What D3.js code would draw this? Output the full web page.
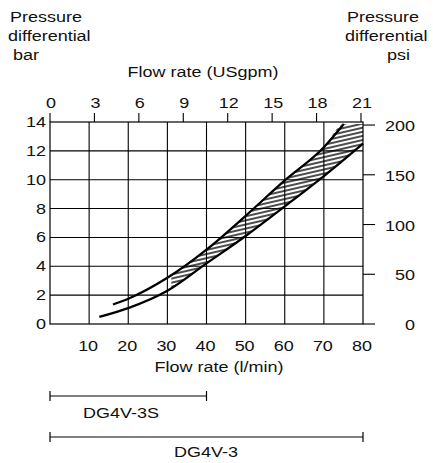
<html>

<head>
  <meta charset="utf8">
  <title>Pressure differential vs flow rate</title>
  <style>
    * {
      margin: 0;
      padding: 0;
    }
    body {
      background: #fff;
    }
  </style>
</head>

<body>
  <script src="https://cdn.jsdelivr.net/npm/d3@7"></script>
  <script>
    var w = 433
    var h = 463

    // flow rate in l/min, pressure drop in bar
    var upperFlow = [16.1, 20, 30, 40, 50, 60, 70, 75.1]
    var upperBar = [1.35, 1.75, 3.2, 5.15, 7.5, 9.95, 12.25, 13.86]
    var lowerFlow = [12.6, 20, 30, 40, 50, 60, 70, 80]
    var lowerBar = [0.49, 1.1, 2.3, 4.2, 6.1, 8.15, 10.25, 12.5]
    var hatchFrom = 31

    var flowTicks = [10, 20, 30, 40, 50, 60, 70, 80]
    var gpmTicks = [0, 3, 6, 9, 12, 15, 18, 21]
    var barTicks = [0, 2, 4, 6, 8, 10, 12, 14]
    var psiTicks = [0, 50, 100, 150, 200]

    var ranges = [
      { name: 'DG4V-3S', from: 0, to: 40 },
      { name: 'DG4V-3', from: 0, to: 80 }
    ]

    var lpmPerGpm = 3.785
    var psiPerBar = 14.5038

    var xScale = d3.scaleLinear().domain([0, 80]).range([50, 363])
    var gpmScale = d3.scaleLinear().domain([0, 80 / lpmPerGpm]).range([50, 363])
    var yScale = d3.scaleLinear().domain([0, 14]).range([324, 122])
    var psiScale = d3.scaleLinear().domain([0, 14 * psiPerBar]).range([324, 122])

    var svg = d3.select('body').append('svg').attr('width', w).attr('height', h)
      .attr('font-family', 'Liberation Sans, Arial, sans-serif')
      .attr('font-size', '15px')

    function label(x, y, str, anchor) {
      svg.append('text')
        .attr('transform', 'translate(' + x + ',' + y + ') scale(1.2,1)')
        .attr('text-anchor', anchor || 'start')
        .attr('fill', '#111')
        .text(str)
    }

    var upper = upperFlow.map((d, i) => [d, upperBar[i]])
    var lower = lowerFlow.map((d, i) => [d, lowerBar[i]])

    var line = d3.line()
      .x(d => xScale(d[0]))
      .y(d => yScale(d[1]))
      .curve(d3.curveMonotoneX)

    var under = d3.area()
      .x(d => xScale(d[0]))
      .y0(yScale(0))
      .y1(d => yScale(d[1]))
      .curve(d3.curveMonotoneX)

    // hatch pattern
    var defs = svg.append('defs')
    var pat = defs.append('pattern')
      .attr('id', 'hatch')
      .attr('patternUnits', 'userSpaceOnUse')
      .attr('width', 12)
      .attr('height', 4)
      .attr('patternTransform', 'rotate(-13)')
    pat.append('line')
      .attr('x1', 0).attr('x2', 12)
      .attr('y1', 2).attr('y2', 2)
      .attr('stroke', '#000')
      .attr('stroke-width', 1.4)

    // band = under upper curve minus under lower curve
    var mask = defs.append('mask').attr('id', 'bandMask')
    mask.append('path')
      .attr('d', under(upper.concat([[80, upperBar[upperBar.length - 1]]])))
      .attr('fill', '#fff')
    mask.append('path')
      .attr('d', under(lower))
      .attr('fill', '#000')

    // grid
    svg.append('g').selectAll('line.v')
      .data(flowTicks.slice(0, -1))
      .enter()
      .append('line')
      .attr('x1', d => xScale(d)).attr('x2', d => xScale(d))
      .attr('y1', yScale(0)).attr('y2', yScale(14))
      .attr('stroke', '#000')
      .attr('stroke-width', 1.1)

    svg.append('g').selectAll('line.h')
      .data(barTicks.slice(1, -1))
      .enter()
      .append('line')
      .attr('x1', xScale(0)).attr('x2', xScale(80))
      .attr('y1', d => yScale(d)).attr('y2', d => yScale(d))
      .attr('stroke', '#000')
      .attr('stroke-width', 1.1)

    // hatched band between the curves
    svg.append('rect')
      .attr('x', xScale(hatchFrom))
      .attr('y', yScale(14))
      .attr('width', xScale(80) - xScale(hatchFrom))
      .attr('height', yScale(0) - yScale(14))
      .attr('fill', 'url(#hatch)')
      .attr('mask', 'url(#bandMask)')

    // frame
    svg.append('rect')
      .attr('x', xScale(0))
      .attr('y', yScale(14))
      .attr('width', xScale(80) - xScale(0))
      .attr('height', yScale(0) - yScale(14))
      .attr('fill', 'none')
      .attr('stroke', '#000')
      .attr('stroke-width', 1.2)

    // curves
    svg.append('path').attr('d', line(upper))
      .attr('fill', 'none').attr('stroke', '#000').attr('stroke-width', 2.3)
    svg.append('path').attr('d', line(lower))
      .attr('fill', 'none').attr('stroke', '#000').attr('stroke-width', 2.3)

    // top axis (USgpm)
    svg.append('g').selectAll('line')
      .data(gpmTicks)
      .enter()
      .append('line')
      .attr('x1', d => gpmScale(d)).attr('x2', d => gpmScale(d))
      .attr('y1', yScale(14)).attr('y2', yScale(14) - 9)
      .attr('stroke', '#000')
      .attr('stroke-width', 1.1)
    gpmTicks.forEach(d => label(gpmScale(d) + 1, 108, d, 'middle'))

    // right axis (psi)
    svg.append('g').selectAll('line')
      .data(psiTicks)
      .enter()
      .append('line')
      .attr('x1', xScale(80)).attr('x2', xScale(80) + 12)
      .attr('y1', d => psiScale(d)).attr('y2', d => psiScale(d))
      .attr('stroke', '#000')
      .attr('stroke-width', 1.1)
    psiTicks.forEach(d => label(415, psiScale(d) + 6, d, 'end'))

    // left and bottom labels
    barTicks.forEach(d => label(46, yScale(d) + 5, d, 'end'))
    flowTicks.forEach(d => label(xScale(d) - 1, 351, d, 'middle'))

    label(219, 372, 'Flow rate (l/min)', 'middle')
    label(203, 77, 'Flow rate (USgpm)', 'middle')

    label(10, 22, 'Pressure')
    label(8, 41, 'differential')
    label(13, 60, 'bar')
    label(347, 22, 'Pressure')
    label(345, 41, 'differential')
    label(387, 60, 'psi')

    // model ranges
    var rangeY = [396, 437]
    var labelY = [418, 457]
    ranges.forEach((r, i) => {
      var g = svg.append('g').attr('stroke', '#000').attr('stroke-width', 1.2)
      g.append('line')
        .attr('x1', xScale(r.from)).attr('x2', xScale(r.to))
        .attr('y1', rangeY[i]).attr('y2', rangeY[i])
      g.append('line')
        .attr('x1', xScale(r.from)).attr('x2', xScale(r.from))
        .attr('y1', rangeY[i] - 5).attr('y2', rangeY[i] + 5)
      g.append('line')
        .attr('x1', xScale(r.to)).attr('x2', xScale(r.to))
        .attr('y1', rangeY[i] - 5).attr('y2', rangeY[i] + 5)
    })
    label(121, labelY[0], ranges[0].name, 'middle')
    label(206, labelY[1], ranges[1].name, 'middle')
  </script>
</body>

</html>
